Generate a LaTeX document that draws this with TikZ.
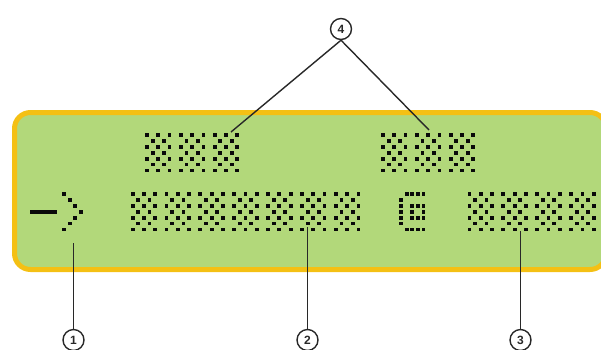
\documentclass[tikz,border=0pt]{standalone}
\usepackage{fontspec}
\setmainfont{Liberation Sans}
\definecolor{lcdgreen}{RGB}{178,216,122}
\definecolor{lcdframe}{RGB}{244,192,20}
\definecolor{dotcol}{RGB}{10,10,10}
\definecolor{linecol}{RGB}{40,40,40}
\tikzset{
  lcddot/.style={fill=dotcol},
  callout/.style={circle,draw=linecol,line width=1.4pt,minimum size=21pt,inner sep=0pt,font=\fontsize{12}{12}\selectfont\bfseries,text=linecol},
  leader/.style={draw=linecol,line width=1.4pt}
}
\newcommand\hp{5.645}
\newcommand\vp{5.9}
\newcommand\dotat[2]{\fill[lcddot] ({#1-1.9},{#2-1.9}) rectangle ({#1+1.9},{#2+1.9});}
% checker character with col0,row0 centre at (#1,#2)
\newcommand\checkchar[2]{%
  \foreach \r in {0,...,6}{%
    \foreach \c in {0,...,4}{%
      \pgfmathtruncatemacro\s{\r+\c}%
      \ifodd\s\relax\else\dotat{#1+\c*\hp}{#2+\r*\vp}\fi
    }%
  }%
}
% character from a list of (col/row) pairs
\newcommand\patchar[3]{%
  \foreach \c/\r in {#3}{\dotat{#1+\c*\hp}{#2+\r*\vp}}%
}
\begin{document}
\begin{tikzpicture}[x=1pt,y=-1pt]
\useasboundingbox (0,0) rectangle (601,349);
\begin{scope}
\clip (0,0) rectangle (601,349);
% LCD panel
\draw[fill=lcdgreen,draw=lcdframe,line width=5pt,rounded corners=16pt] (14.5,112.5) rectangle (606,269.5);
% bottom line, row 0 at y=194
\fill[lcddot] (29.5,209.5) rectangle (56.5,213.5);
\patchar{64}{194}{0/0,1/1,2/2,3/3,2/4,1/5,0/6}
\foreach \k in {0,...,6}{\checkchar{132.6+\k*33.87}{194}}
\patchar{401}{194}{1/0,2/0,3/0,4/0,0/1,0/2,2/2,3/2,4/2,0/3,2/3,4/3,0/4,2/4,3/4,4/4,0/5,1/6,2/6,3/6,4/6}
\foreach \k in {0,...,3}{\checkchar{469.5+\k*33.87}{194}}
% top line, row 0 at y=135
\foreach \k in {0,...,2}{\checkchar{147+\k*33.87}{135}}
\foreach \k in {0,...,2}{\checkchar{383+\k*33.87}{135}}
% callouts
\node[callout] (c4) at (341,29) {4};
\node[callout] (c1) at (73.5,340) {1};
\node[callout] (c2) at (307.5,340) {2};
\node[callout] (c3) at (520.5,340) {3};
\coordinate (t4a) at (231,132);
\coordinate (t4b) at (429,130);
\coordinate (t1) at (73.5,243);
\coordinate (t2) at (307.5,227);
\coordinate (t3) at (520.5,231);
\draw[leader] (c4.south) -- (t4a);
\draw[leader] (c4.south) -- (t4b);
\draw[leader] (t1) -- (c1.north);
\draw[leader] (t2) -- (c2.north);
\draw[leader] (t3) -- (c3.north);
\end{scope}
\end{tikzpicture}
\end{document}
